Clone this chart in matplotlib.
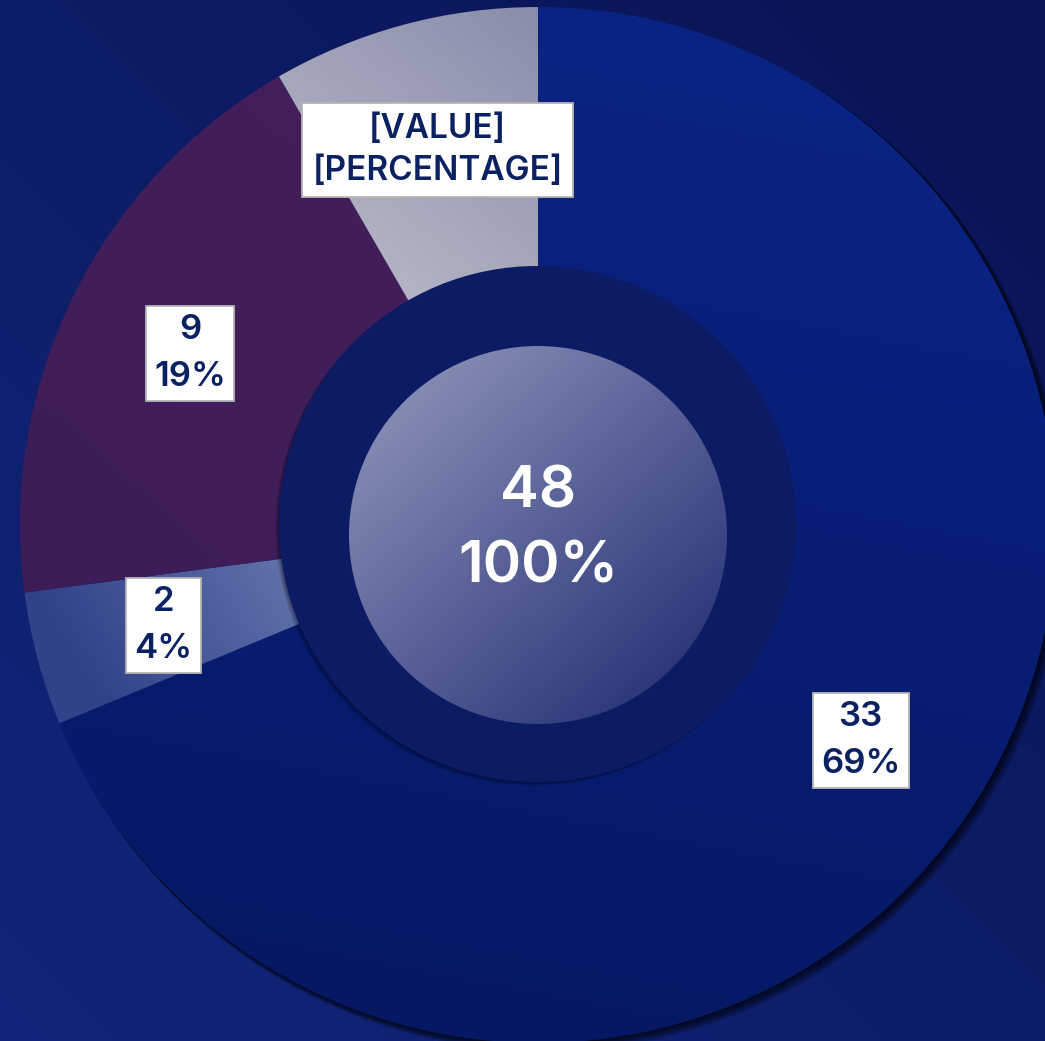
import numpy as np
import matplotlib
matplotlib.use("Agg")
import matplotlib.pyplot as plt
from matplotlib.patches import Wedge, Circle
from matplotlib.colors import to_rgb

# ---- data ----
categories = ["A", "B", "C", "D"]
values = [33, 2, 9, 4]
placeholder = [False, False, False, True]
total_label = "48\n100%"

W, H = 1045, 1041
plt.rcParams['font.family'] = ['Inter', 'DejaVu Sans']

fig = plt.figure(figsize=(W / 100, H / 100), dpi=100)
ax = fig.add_axes([0, 0, 1, 1])

cx, cy = 538, H - 525
R_out, R_in = 518, 258

xs = np.arange(W) + 0.5
ys = np.arange(H) + 0.5
XX, YY = np.meshgrid(xs, ys)


def grad(p0, p1, c0, c1):
    p0 = np.array(p0, float); p1 = np.array(p1, float)
    d = p1 - p0
    t = ((XX - p0[0]) * d[0] + (YY - p0[1]) * d[1]) / (d @ d)
    t = np.clip(t, 0, 1)[..., None]
    a = np.array(to_rgb(c0)); b = np.array(to_rgb(c1))
    return a * (1 - t) + b * t


def show(img, clip=None, z=1):
    im = ax.imshow(img, origin='lower', extent=(0, W, 0, H), zorder=z,
                   interpolation='bilinear')
    if clip is not None:
        im.set_clip_path(clip)
    return im


# background
show(grad((W, H), (0, 0), '#0a1354', '#11267a'), z=0)

base_colors = ['#08217a', '#3c4c8c', '#40205a', '#a0a3bb']
wedges, _ = ax.pie(values, startangle=90, counterclock=False, radius=R_out,
                   center=(cx, cy), colors=base_colors,
                   wedgeprops=dict(width=R_out - R_in, linewidth=0))
for w in wedges:
    w.set_zorder(3)

# shadow of the big wedge
wb = wedges[0]
for k in range(1, 9):
    sh = Wedge((cx + k * 0.8, cy - k * 0.8), R_out + k * 0.25, wb.theta1, wb.theta2,
               width=R_out - R_in, facecolor='black', alpha=0.12, lw=0, zorder=2)
    ax.add_patch(sh)

# gradient fills for wedges
grads = [
    (('#0a2486', '#061862'), ((cx, H), (cx - 200, 0))),
    (('#6272aa', '#32428a'), ((290, H - 560), (90, H - 680))),
    (('#45205c', '#3c1d58'), ((cx, H), (0, H - 600))),
    (('#888caa', '#bcbdc9'), ((cx, H), (300, H - 300))),
]
for w, (cols, pts) in zip(wedges, grads):
    w.set_facecolor('none')
    clipw = Wedge((cx, cy), R_out, w.theta1, w.theta2, width=R_out - R_in,
                  transform=ax.transData, lw=0)
    show(grad(pts[0], pts[1], cols[0], cols[1]), clip=clipw, z=3)

# hole with soft shadow at lower-left
for k in range(1, 7):
    ax.add_patch(Circle((cx - 1 - k * 0.6, cy + 1 - k * 0.6), R_in, facecolor='black',
                        alpha=0.07, lw=0, zorder=4))
hole = Circle((cx - 1, cy + 1), R_in, facecolor='#0c1b64', lw=0, zorder=4)
ax.add_patch(hole)

# inner disc
ic = (cx, H - 535)
disc = Circle(ic, 189, transform=ax.transData, lw=0)
show(grad((ic[0] - 150, ic[1] + 160), (ic[0] + 150, ic[1] - 160), '#8a91b8', '#263275'),
     clip=disc, z=5)

ax.text(ic[0], ic[1] + 5, total_label, ha='center', va='center', color='white',
        fontsize=42, fontweight='semibold', linespacing=1.52, zorder=6)

# labels
tot = sum(values)
r_mid = (R_out + R_in) / 2
for w, v, ph in zip(wedges, values, placeholder):
    ang = np.deg2rad((w.theta1 + w.theta2) / 2)
    x = cx + r_mid * np.cos(ang)
    y = cy + r_mid * np.sin(ang)
    if ph:
        txt, fs, ls, pad = "[VALUE]\n[PERCENTAGE]", 24, 1.4, 0.3
    else:
        txt, fs, ls, pad = f"{v}\n{round(100 * v / tot)}%", 25, 1.6, 0.24
    ax.text(x, y, txt, ha='center', va='center', color='#0b2262', fontsize=fs,
            fontweight='semibold', linespacing=ls, zorder=7,
            bbox=dict(boxstyle=f'square,pad={pad}', fc='white', ec='#b5b5b5', lw=1.3))

ax.set_xlim(0, W)
ax.set_ylim(0, H)
ax.set_aspect('auto')
ax.axis('off')
fig.savefig('out.png', dpi=100)
